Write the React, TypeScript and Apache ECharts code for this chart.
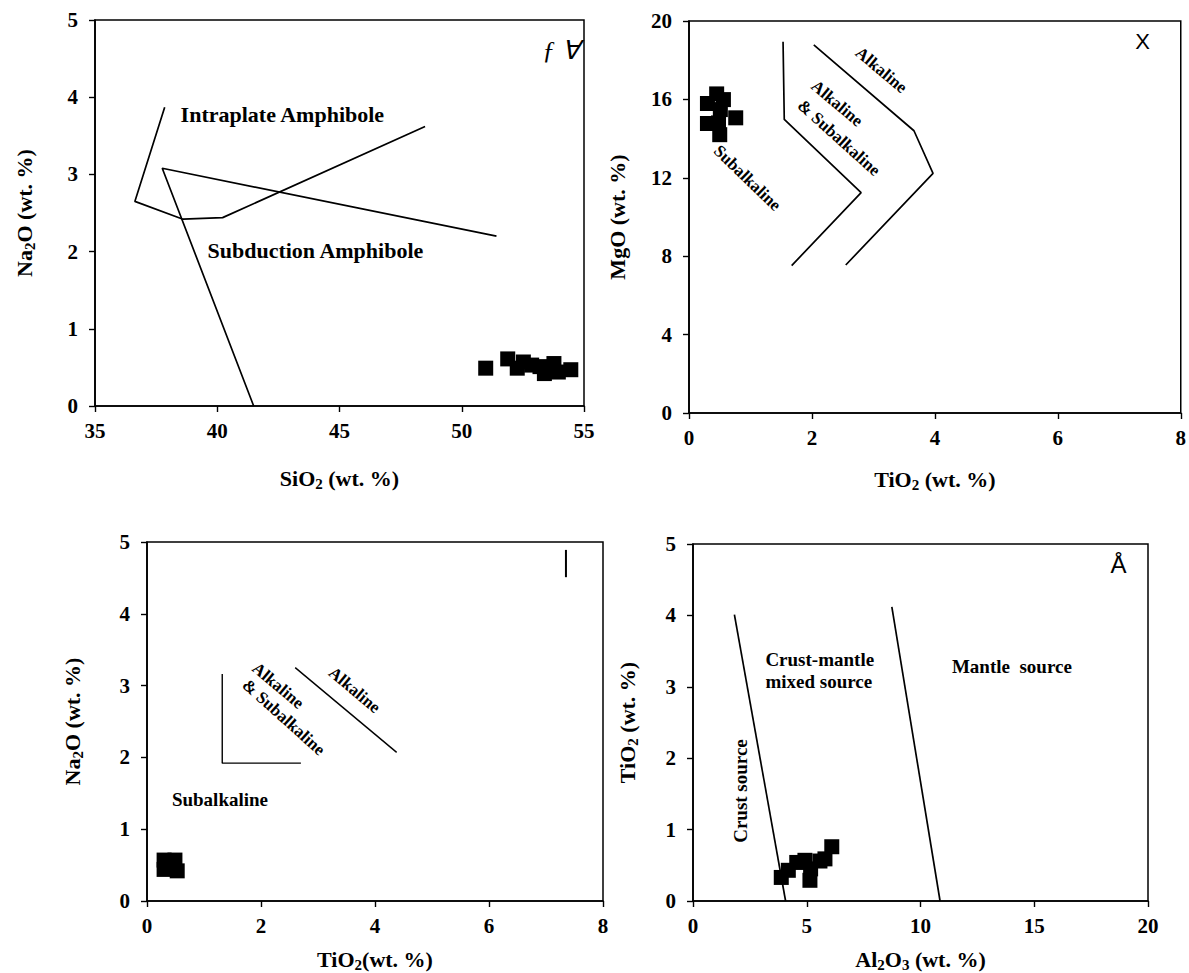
import React, { useEffect, useRef } from "react";
import * as echarts from "echarts";

// ---------- Panel 1: SiO2 vs Na2O ----------
const p1Intraplate = [[37.85, 3.87], [36.63, 2.65], [38.6, 2.42], [40.22, 2.44], [48.5, 3.62]];
const p1Subduction = [[51.42, 2.2], [37.75, 3.08], [41.49, 0]];
const p1Samples = [
  [50.98, 0.49], [51.88, 0.61], [52.27, 0.49], [52.52, 0.57], [52.86, 0.53],
  [53.2, 0.51], [53.38, 0.42], [53.77, 0.55], [53.95, 0.44], [54.46, 0.47],
];
// ---------- Panel 2: TiO2 vs MgO ----------
const p2LineInner = [[1.53, 18.94], [1.55, 14.98], [2.8, 11.24], [1.67, 7.52]];
const p2LineOuter = [[2.03, 18.78], [3.66, 14.4], [3.97, 12.23], [2.55, 7.55]];
const p2Samples = [
  [0.3, 15.79], [0.45, 16.28], [0.56, 15.99], [0.51, 15.48], [0.3, 14.77],
  [0.48, 14.8], [0.76, 15.06], [0.5, 14.2],
];
// ---------- Panel 3: TiO2 vs Na2O ----------
const p3Corner = [[1.32, 3.16], [1.32, 1.92], [2.7, 1.92]];
const p3Diagonal = [[2.6, 3.25], [4.38, 2.07]];
const p3Bar = [[7.35, 4.89], [7.35, 4.51]];
const p3Samples = [[0.3, 0.57], [0.49, 0.57], [0.3, 0.44], [0.53, 0.42], [0.43, 0.49]];
// ---------- Panel 4: Al2O3 vs TiO2 ----------
const p4CrustLine = [[1.82, 4.01], [4.07, 0]];
const p4MantleLine = [[8.74, 4.12], [10.86, 0]];
const p4Samples = [
  [3.88, 0.33], [4.19, 0.43], [4.56, 0.54], [4.92, 0.57], [5.14, 0.29],
  [5.17, 0.45], [5.58, 0.56], [5.8, 0.59], [6.1, 0.76],
];

// annotation texts: [x, y, text, rotate, align]
const p1Notes: any[] = [
  [38.48, 3.77, "Intraplate Amphibole", 0, "left"],
  [39.58, 2.02, "Subduction Amphibole", 0, "left"],
];
const p2Notes: any[] = [
  [3.13, 17.5, "Alkaline", -40, "center"],
  [2.41, 15.8, "Alkaline", -40, "center"],
  [2.44, 14.04, "& Subalkaline", -42, "center"],
  [0.95, 11.99, "Subalkaline", -44, "center"],
];
const p3Notes: any[] = [
  [3.64, 2.94, "Alkaline", -40, "center"],
  [2.3, 3.0, "Alkaline", -40, "center"],
  [2.4, 2.56, "& Subalkaline", -42, "center"],
  [1.28, 1.42, "Subalkaline", 0, "center"],
];
const p4Notes: any[] = [
  [3.16, 3.38, "Crust-mantle", 0, "left"],
  [3.16, 3.08, "mixed source", 0, "left"],
  [11.36, 3.29, "Mantle  source", 0, "left"],
  [2.07, 1.54, "Crust source", 90, "center"],
];

const SERIF = "'Liberation Serif', 'Times New Roman', serif";
const SANS = "'Liberation Sans', Arial, sans-serif";

const titleRich = {
  b: { fontFamily: SERIF, fontWeight: "bold", fontSize: 22, color: "#000" },
  s: { fontFamily: SERIF, fontWeight: "bold", fontSize: 15, color: "#000", padding: [10, 0, 0, 0] },
};

function axis(gridIndex: number, min: number, max: number, interval: number, name: string, nameGap: number, labelMargin: number) {
  return {
    type: "value",
    gridIndex,
    min,
    max,
    interval,
    name,
    nameLocation: "middle",
    nameGap,
    nameTextStyle: { rich: titleRich },
    axisLine: { show: true, onZero: false, lineStyle: { color: "#000", width: 1.7 } },
    axisTick: { show: true, inside: false, length: 6, lineStyle: { color: "#000", width: 1.4 } },
    axisLabel: { fontFamily: SERIF, fontWeight: "bold", fontSize: 21, color: "#000", margin: labelMargin },
    splitLine: { show: false },
  };
}

function lineSeries(idx: number, data: number[][], width = 1.7) {
  return {
    type: "line",
    xAxisIndex: idx,
    yAxisIndex: idx,
    data,
    symbol: "none",
    silent: true,
    lineStyle: { color: "#000", width },
    z: 3,
  };
}

function scatterSeries(idx: number, data: number[][], size: number) {
  return {
    type: "scatter",
    xAxisIndex: idx,
    yAxisIndex: idx,
    data,
    symbol: "rect",
    symbolSize: size,
    silent: true,
    itemStyle: { color: "#000", opacity: 1 },
    z: 4,
  };
}

function noteSeries(idx: number, notes: any[], fontSize: number) {
  return {
    type: "scatter",
    xAxisIndex: idx,
    yAxisIndex: idx,
    symbolSize: 1,
    silent: true,
    itemStyle: { color: "rgba(0,0,0,0)", opacity: 1 },
    z: 5,
    data: notes.map((n) => ({
      value: [n[0], n[1]],
      label: {
        show: true,
        formatter: n[2],
        position: n[4] === "left" ? "right" : "inside",
        distance: 0,
        rotate: n[3],
        fontFamily: SERIF,
        fontWeight: "bold",
        fontSize,
        color: "#000",
      },
    })),
  };
}

function markSeries(idx: number, x: number, y: number, text: string, font: string, size: number, style = "normal") {
  return {
    type: "scatter",
    xAxisIndex: idx,
    yAxisIndex: idx,
    symbolSize: 1,
    silent: true,
    itemStyle: { color: "rgba(0,0,0,0)", opacity: 1 },
    data: [{
      value: [x, y],
      label: {
        show: true,
        formatter: text,
        position: "inside",
        fontFamily: font,
        fontSize: size,
        fontStyle: style,
        color: "#000",
      },
    }],
  };
}

export default function App() {
  const ref = useRef<HTMLDivElement>(null);
  useEffect(() => {
    if (!ref.current) return;
    const chart = echarts.init(ref.current, undefined, { renderer: "svg" });
    const gridBase = { show: true, borderColor: "#000", borderWidth: 1.5, backgroundColor: "transparent" };
    chart.setOption({
      animation: false,
      backgroundColor: "#fff",
      grid: [
        { ...gridBase, left: 95, top: 20, width: 489, height: 386 },
        { ...gridBase, left: 689, top: 21, width: 494, height: 392 },
        { ...gridBase, left: 147, top: 542, width: 456, height: 360 },
        { ...gridBase, left: 693, top: 544, width: 455, height: 360 },
      ],
      xAxis: [
        axis(0, 35, 55, 5, "{b|SiO}{s|2}{b| (wt. %)}", 60, 14),
        axis(1, 0, 8, 2, "{b|TiO}{s|2}{b| (wt. %)}", 54, 14),
        axis(2, 0, 8, 2, "{b|TiO}{s|2}{b|(wt. %)}", 46, 14),
        axis(3, 0, 20, 5, "{b|Al}{s|2}{b|O}{s|3}{b| (wt. %)}", 46, 14),
      ],
      yAxis: [
        axis(0, 0, 5, 1, "{b|Na}{s|2}{b|O (wt. %)}", 58, 17),
        axis(1, 0, 20, 4, "{b|MgO (wt. %)}", 61, 17),
        axis(2, 0, 5, 1, "{b|Na}{s|2}{b|O (wt. %)}", 62, 17),
        axis(3, 0, 5, 1, "{b|TiO}{s|2}{b| (wt. %)}", 53, 17),
      ],
      series: [
        lineSeries(0, p1Intraplate),
        lineSeries(0, p1Subduction),
        scatterSeries(0, p1Samples, 15),
        noteSeries(0, p1Notes, 22),
        markSeries(0, 54.06, 4.6, "ƒ ∀", SERIF, 26, "italic"),

        lineSeries(1, p2LineInner),
        lineSeries(1, p2LineOuter),
        scatterSeries(1, p2Samples, 15),
        noteSeries(1, p2Notes, 17),
        markSeries(1, 7.38, 18.93, "X", SANS, 22),

        lineSeries(2, p3Corner, 1.4),
        lineSeries(2, p3Diagonal, 1.4),
        lineSeries(2, p3Bar, 2),
        scatterSeries(2, p3Samples, 15),
        noteSeries(2, p3Notes.slice(0, 3), 17),
        noteSeries(2, p3Notes.slice(3), 19),

        lineSeries(3, p4CrustLine),
        lineSeries(3, p4MantleLine),
        scatterSeries(3, p4Samples, 15),
        noteSeries(3, p4Notes, 19),
        markSeries(3, 18.7, 4.71, "Å", SANS, 24),
      ],
    });
    return () => chart.dispose();
  }, []);
  return (
    <div
      ref={ref}
      style={{ position: "absolute", left: 0, top: 0, width: 1189, height: 973, background: "#fff" }}
    />
  );
}
